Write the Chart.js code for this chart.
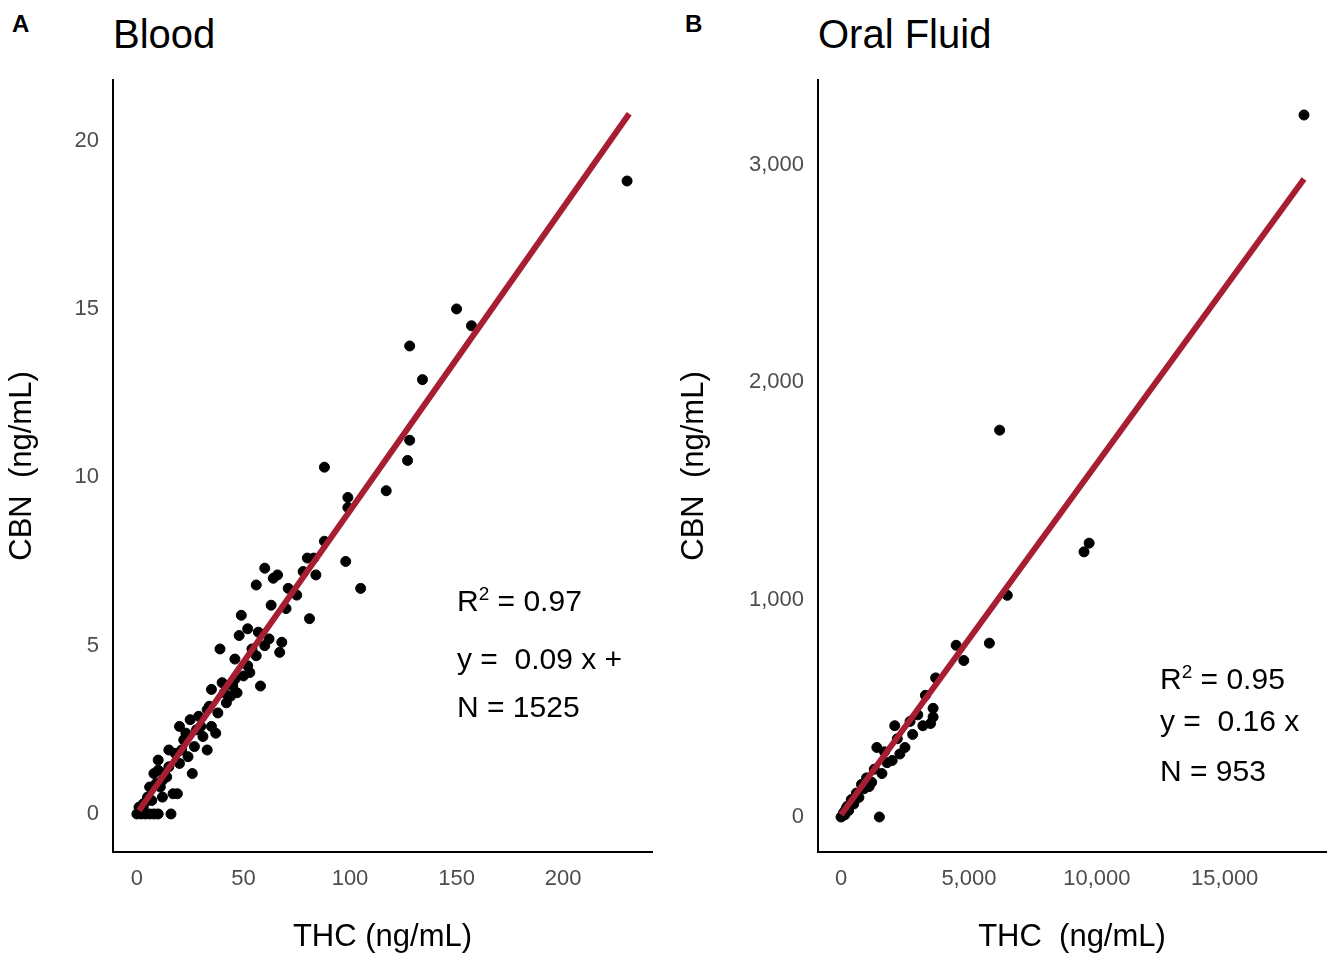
<!DOCTYPE html>
<html>
<head>
<meta charset="UTF-8">
<script src="https://cdn.jsdelivr.net/npm/chart.js"></script>
<style>
  body { margin: 0; background: #fff; font-family: "Liberation Sans", Arial, sans-serif; }
  .wrap { position: relative; width: 1344px; height: 960px; overflow: hidden; }
  .box { position: absolute; top: 60px; height: 900px; }
  .tag { position: absolute; font-weight: bold; font-size: 24px; top: 10px; }
  .ttl { position: absolute; font-size: 40px; top: 12px; }
  .note { position: absolute; font-size: 30px; line-height: 1; }
  .note div { position: absolute; white-space: pre; }
  sup { font-size: 19px; }
</style>
</head>
<body>
<div class="wrap">
  <div class="tag" style="left:12px">A</div>
  <div class="ttl" style="left:113px">Blood</div>
  <div class="tag" style="left:685px">B</div>
  <div class="ttl" style="left:818px">Oral Fluid</div>
  <div class="box" style="left:0;width:670px"><canvas id="blood"></canvas></div>
  <div class="box" style="left:672px;width:672px"><canvas id="oral"></canvas></div>
  <div class="note" style="left:457px;top:0">
    <div style="top:584px">R<sup>2</sup> = 0.97</div>
    <div style="top:644px">y =  0.09 x +</div>
    <div style="top:692px">N = 1525</div>
  </div>
  <div class="note" style="left:1160px;top:0">
    <div style="top:662px">R<sup>2</sup> = 0.95</div>
    <div style="top:706px">y =  0.16 x</div>
    <div style="top:756px">N = 953</div>
  </div>
</div>
<script>
// Blood: THC vs CBN (ng/mL)
const bloodX = [230,150,157,128,134,128,127,117,88,99,99,98,105,81,88,83,80,84,71,60,64,66,56,63,68,67,49,52,48,57,58,46,50,53,45,40,39,35,47,33,37,33,26,29,30,25,20,22,18,15,17,19,16,10,5,0,2,4,6,8,10,3,8,10,12,14,6,7,12,20,24,27,31,35,38,42,44,52,56,60,62,70,75,78,15,13,23,11,9,5,1,3,21,28,34,41,46,54];
const bloodY = [18.8,15,14.5,13.9,12.9,11.1,10.5,9.6,10.3,9.4,9.1,7.5,6.7,5.8,8.1,7.6,7.6,7.1,6.7,7.3,7.0,7.1,6.8,6.2,5.1,4.8,5.9,5.5,5.3,5.4,3.8,4.6,4.1,4.2,3.8,3.9,4.9,3.7,3.6,3.1,2.4,1.9,1.2,2.9,2.6,2.8,2.6,2.2,1.8,1.9,0.6,0.6,0,1.6,0.5,0,0,0,0,0,0,0.3,1.2,1.3,1.0,1.1,0.8,0.4,0.5,1.5,1.7,2.0,2.3,2.6,3.0,3.3,3.5,4.4,4.7,5.0,5.2,6.1,6.5,7.2,1.4,1.2,2.4,0.8,0.9,0.4,0.2,0.2,1.9,2.5,3.2,3.6,4.0,4.9];
const bloodFitX = [1, 231];
const bloodFitY = [0.1, 20.8];
const bloodXTicks = [0, 50, 100, 150, 200];
const bloodYTicks = [0, 5, 10, 15, 20];

// Oral fluid
const oralX = [18100,6200,9700,9500,6500,5800,4500,4800,3700,3300,3600,3500,3000,2700,2100,2500,2300,1800,1500,1300,1000,800,600,400,200,100,0,50,300,700,1200,1600,2000,2800,3200,3600,1400,900,500,150,250,1700,2200,1100];
const oralY = [3230,1780,1260,1220,1020,800,790,720,640,560,500,430,470,440,420,320,290,250,0,220,180,150,110,80,40,20,0,5,30,90,160,200,260,380,420,460,320,130,60,10,50,300,360,140];
const oralFitX = [0, 18100];
const oralFitY = [10, 2935];
const oralXTicks = [0, 5000, 10000, 15000];
const oralYTicks = [0, 1000, 2000, 3000];

const pts = (xs, ys) => xs.map((x, i) => ({ x: x, y: ys[i] }));

function makeChart(id, xs, ys, fx, fy, xr, yr, xt, yt, xTitle, yWidth) {
  const axis = (min, max, ticks, title, fit) => ({
    type: 'linear', min: min, max: max,
    grid: { display: false },
    border: { display: true, color: '#000', width: 2 },
    ticks: { color: '#4d4d4d', font: { size: 22, family: 'Liberation Sans' }, padding: 6 },
    title: { display: true, text: title, color: '#000', font: { size: 31, family: 'Liberation Sans' } },
    afterBuildTicks: s => { s.ticks = ticks.map(v => ({ value: v })); },
    afterFit: fit
  });
  new Chart(document.getElementById(id), {
    type: 'scatter',
    data: {
      datasets: [
        { data: pts(xs, ys), backgroundColor: '#000', borderColor: '#000', pointRadius: 5, order: 2 },
        { type: 'line', data: pts(fx, fy), borderColor: '#a71d31', borderWidth: 6, pointRadius: 0, order: 1 }
      ]
    },
    options: {
      responsive: true, maintainAspectRatio: false, animation: false,
      layout: { padding: { top: 20, right: 18 } },
      plugins: { legend: { display: false }, tooltip: { enabled: false } },
      scales: {
        x: axis(xr[0], xr[1], xt, xTitle, s => { s.height = 108; }),
        y: axis(yr[0], yr[1], yt, 'CBN  (ng/mL)', s => { s.width = yWidth; })
      }
    }
  });
}

makeChart('blood', bloodX, bloodY, bloodFitX, bloodFitY, [-11.2, 241.7], [-1.13, 21.8], bloodXTicks, bloodYTicks, 'THC (ng/mL)', 113);
makeChart('oral', oralX, oralY, oralFitX, oralFitY, [-900, 18960], [-161, 3391], oralXTicks, oralYTicks, 'THC  (ng/mL)', 146);
</script>
</body>
</html>
